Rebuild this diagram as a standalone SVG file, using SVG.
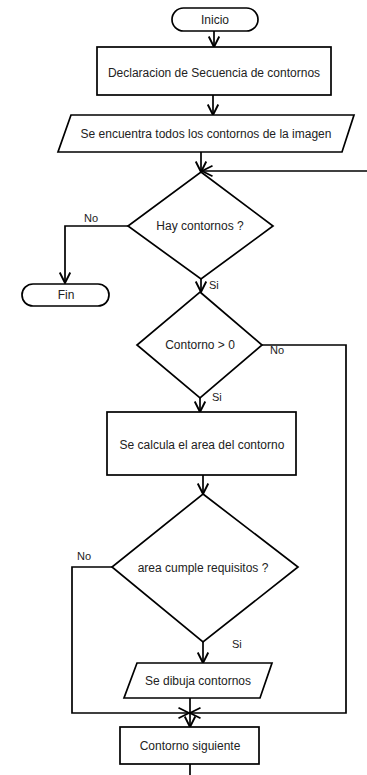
<svg xmlns="http://www.w3.org/2000/svg" width="367" height="775" viewBox="0 0 367 775">
  <style>
    .shape { fill: #ffffff; stroke: #000000; stroke-width: 1.7; }
    .line { fill: none; stroke: #000000; stroke-width: 1.7; }
    text { font-family: "Liberation Sans", Arial, sans-serif; font-size: 12px; fill: #222222; text-anchor: middle; }
    .lbl { font-size: 11px; text-anchor: start; }
  </style>
  <defs>
    <marker id="arrow" markerUnits="userSpaceOnUse" markerWidth="14" markerHeight="14" viewBox="-10 -6 12 12" refX="0" refY="0" orient="auto">
      <path d="M-9,-4.5 L0,0 L-9,4.5" fill="none" stroke="#000000" stroke-width="1.6"/>
    </marker>
  </defs>
  <rect width="367" height="775" fill="#ffffff"/>

  <!-- connectors -->
  <g id="connectors">
    <path class="line" d="M214,31 L214,47" marker-end="url(#arrow)"/>
    <path class="line" d="M213,95 L213,115" marker-end="url(#arrow)"/>
    <path class="line" d="M201,152 L201,172" marker-end="url(#arrow)"/>
    <path class="line" d="M367,171 L202,171" marker-end="url(#arrow)"/>
    <path class="line" d="M128,226 L65,226 L65,283" marker-end="url(#arrow)"/>
    <path class="line" d="M201,279 L201,292" marker-end="url(#arrow)"/>
    <path class="line" d="M262,345 L346,345 L346,713 L190,713" marker-end="url(#arrow)"/>
    <path class="line" d="M200,398 L200,412" marker-end="url(#arrow)"/>
    <path class="line" d="M203,475 L203,494" marker-end="url(#arrow)"/>
    <path class="line" d="M112,567 L72,567 L72,713 L189,713" marker-end="url(#arrow)"/>
    <path class="line" d="M203,642 L203,663" marker-end="url(#arrow)"/>
    <path class="line" d="M190,698 L190,727" marker-end="url(#arrow)"/>
    <path class="line" d="M190,764 L190,775"/>
    <text class="lbl" x="84" y="222">No</text>
    <text class="lbl" x="209" y="289">Si</text>
    <text class="lbl" x="270" y="354">No</text>
    <text class="lbl" x="212" y="401">Si</text>
    <text class="lbl" x="77" y="560">No</text>
    <text class="lbl" x="232" y="648">Si</text>
  </g>

  <g id="inicio">
    <rect class="shape" x="172" y="8" width="86" height="23" rx="11.5" ry="11.5"/>
    <text x="215" y="24">Inicio</text>
  </g>

  <g id="declaracion">
    <rect class="shape" x="97" y="47" width="234" height="48"/>
    <text x="214" y="77">Declaracion de Secuencia de contornos</text>
  </g>

  <g id="encuentra">
    <polygon class="shape" points="71,115 354,115 342,152 58,152"/>
    <text x="206" y="138">Se encuentra todos los contornos de la imagen</text>
  </g>

  <g id="hay-contornos">
    <polygon class="shape" points="201,172 273,226 201,279 128,226"/>
    <text x="200" y="230">Hay contornos ?</text>
  </g>

  <g id="fin">
    <rect class="shape" x="22" y="284" width="87" height="22" rx="11" ry="11"/>
    <text x="66" y="299">Fin</text>
  </g>

  <g id="contorno-mayor">
    <polygon class="shape" points="200,292 262,345 200,398 137,345"/>
    <text x="200" y="349">Contorno &gt; 0</text>
  </g>

  <g id="calcula-area">
    <rect class="shape" x="107" y="412" width="189" height="63"/>
    <text x="202" y="449">Se calcula el area del contorno</text>
  </g>

  <g id="area-cumple">
    <polygon class="shape" points="203,494 298,567 203,642 112,567"/>
    <text x="203" y="572">area cumple requisitos ?</text>
  </g>

  <g id="dibuja">
    <polygon class="shape" points="137,663 272,663 260,698 124,698"/>
    <text x="198" y="685">Se dibuja contornos</text>
  </g>

  <g id="siguiente">
    <rect class="shape" x="120" y="727" width="139" height="37"/>
    <text x="190" y="750">Contorno siguiente</text>
  </g>
</svg>
